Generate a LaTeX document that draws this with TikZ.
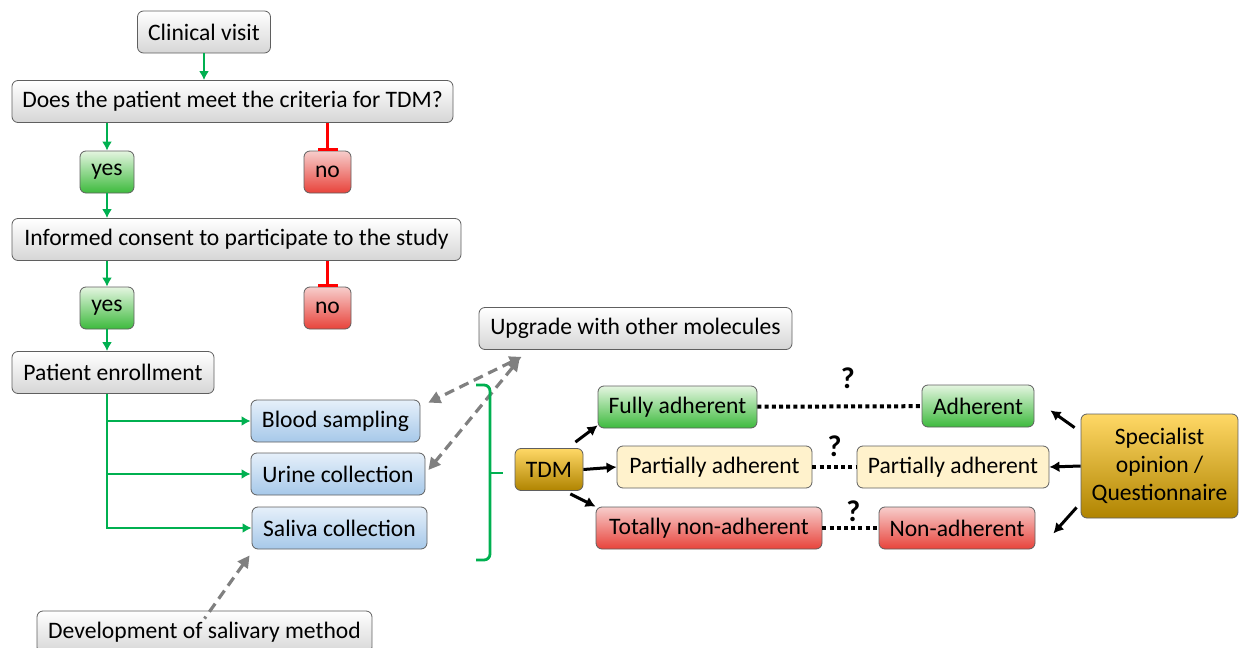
\documentclass[tikz,border=0pt]{standalone}
\usepackage{fontspec}
\setmainfont{Carlito}
\usepackage{xcolor}
\usetikzlibrary{arrows.meta}

\definecolor{boxline}{HTML}{5F5F5F}
\definecolor{greyB}{HTML}{D6D6D6}
\definecolor{greenT}{HTML}{E4F5E0}
\definecolor{greenB}{HTML}{3DBA3D}
\definecolor{redT}{HTML}{F7CDCB}
\definecolor{redB}{HTML}{E8433B}
\definecolor{blueT}{HTML}{E6F0FA}
\definecolor{blueB}{HTML}{A6C8E9}
\definecolor{goldT}{HTML}{FFD866}
\definecolor{goldM}{HTML}{FFC000}
\definecolor{goldB}{HTML}{B08400}
\definecolor{cream}{HTML}{FFF2CC}
\definecolor{arrgreen}{HTML}{00B050}
\definecolor{arrgrey}{HTML}{808080}

\tikzset{
  box/.style={draw=boxline, rounded corners=3pt, minimum height=21pt, inner sep=2pt,
    font=\fontsize{11.8}{14}\selectfont},
  greybox/.style={box, top color=white, bottom color=greyB},
  greenbox/.style={box, top color=greenT, bottom color=greenB},
  redbox/.style={box, top color=redT, bottom color=redB},
  bluebox/.style={box, top color=blueT, bottom color=blueB},
  goldbox/.style={box, top color=goldT, middle color=goldM, bottom color=goldB},
  creambox/.style={box, fill=cream},
  yesarr/.style={arrgreen, line width=1.4pt, -{Latex[length=4.5pt,width=5pt]}},
  noarr/.style={red, line width=1.4pt, -{Bar[width=10pt]}},
  blkarr/.style={black, line width=1.5pt, -{Latex[length=5pt,width=5.5pt]}},
  dasharr/.style={arrgrey, line width=1.6pt, dash pattern=on 5pt off 3pt, {Triangle[length=6pt,width=6pt]}-{Triangle[length=6pt,width=6pt]}},
  dotline/.style={black, line width=2pt, dash pattern=on 2pt off 1.6pt},
  qmark/.style={font=\fontsize{15}{15}\selectfont\bfseries, inner sep=0pt}
}

\begin{document}
\begin{tikzpicture}[x=0.5pt, y=-0.5pt, >=latex]
\useasboundingbox (0,0) rectangle (1239,648);

% Inclusion
\node[greybox, minimum width=66.5pt] (clin) at (204,32) {Clinical visit};
\node[greybox, minimum width=220.5pt] (crit) at (232.5,101.5) {Does the patient meet the criteria for TDM?};
\node[greenbox, minimum width=27pt] (yesA) at (107,172) {yes};
\node[redbox, minimum width=23.5pt] (noA) at (327.5,172) {no};
\node[greybox, minimum width=224.5pt] (cons) at (236.5,239.5) {Informed consent to participate to the study};
\node[greenbox, minimum width=27pt] (yesB) at (107,308) {yes};
\node[redbox, minimum width=23.5pt] (noB) at (327.5,308) {no};
\node[greybox, minimum width=101pt] (enrol) at (113,372.5) {Patient enrollment};

\draw[yesarr] (clin) -- (clin |- crit.north);
\draw[yesarr] (yesA |- crit.south) -- (yesA);
\draw[noarr] (noA |- crit.south) -- (noA.north);
\draw[yesarr] (yesA) -- (yesA |- cons.north);
\draw[yesarr] (yesB |- cons.south) -- (yesB);
\draw[noarr] (noB |- cons.south) -- (noB.north);
\draw[yesarr] (yesB) -- (yesB |- enrol.north);

% Sampling
\node[bluebox, minimum width=84.5pt] (blood) at (335.5,421) {Blood sampling};
\node[bluebox, minimum width=87pt] (urine) at (338,474) {Urine collection};
\node[bluebox, minimum width=87.5pt] (saliva) at (339.5,528) {Saliva collection};
\node[greybox, minimum width=167.5pt] (devel) at (204.5,632) {Development of salivary method};
\node[greybox, minimum width=156.5pt] (upgr) at (635.5,328.5) {Upgrade with other molecules};

\coordinate (fork) at (yesB |- enrol.south);
\draw[yesarr] (fork) |- (blood.west);
\draw[yesarr] (fork) |- (urine.west);
\draw[yesarr] (fork) |- (saliva.west);

\draw[dasharr] ([shift={(43,7)}]upgr.south west) -- ([shift={(8,3)}]blood.north east);
\draw[dasharr] ([shift={(41,9)}]upgr.south west) -- ([shift={(3,-4)}]urine.east);
\draw[dasharr, {Triangle[length=6pt,width=6pt]}-] ([shift={(-2,6)}]saliva.south west) -- ([yshift=-4]devel.north);

% brace
\draw[arrgreen, line width=1.4pt, rounded corners=3pt] (476,385) -- (490,385) -- (490,473) -- (490,560) -- (476,560);
\draw[arrgreen, line width=1.4pt] (490,473) -- (503,473);

% Adherence
\node[goldbox, minimum width=34pt] (tdm) at (549,469.5) {TDM};
\node[greenbox, minimum width=79.5pt] (fully) at (677.5,407) {Fully adherent};
\node[creambox, minimum width=97.5pt] (partL) at (714.5,467) {Partially adherent};
\node[redbox, minimum width=113pt] (total) at (709,528) {Totally non-adherent};
\node[greenbox, minimum width=56pt] (adh) at (978,406) {Adherent};
\node[creambox, minimum width=96pt] (partR) at (953,467) {Partially adherent};
\node[redbox, minimum width=78pt] (nonad) at (957,528) {Non-adherent};
\node[goldbox, minimum width=78.5pt, minimum height=52pt, align=center] (spec) at (1159.5,466)
  {Specialist\\opinion /\\Questionnaire};

\draw[blkarr] ([shift={(-8,-6)}]tdm.north east) -- ([shift={(0,-3)}]fully.south west);
\draw[blkarr] (tdm.east) -- (partL.west);
\draw[blkarr] ([shift={(-13,3)}]tdm.south east) -- ([shift={(0,0)}]total.north west);
\draw[blkarr] ([shift={(-6,14)}]spec.north west) -- ([shift={(16,-17)}]adh.south east);
\draw[blkarr] (spec.west) -- (partR.east);
\draw[blkarr] ([shift={(-4,-11)}]spec.south west) -- ([shift={(18,-16)}]nonad.south east);

\draw[dotline] (fully) -- node[qmark, pos=0.55, above=8pt] {?} (adh);
\draw[dotline] (partL) -- node[qmark, above=4pt] {?} (partR);
\draw[dotline] (total) -- node[qmark, pos=0.55, above=2pt] {?} (nonad);
\end{tikzpicture}
\end{document}
